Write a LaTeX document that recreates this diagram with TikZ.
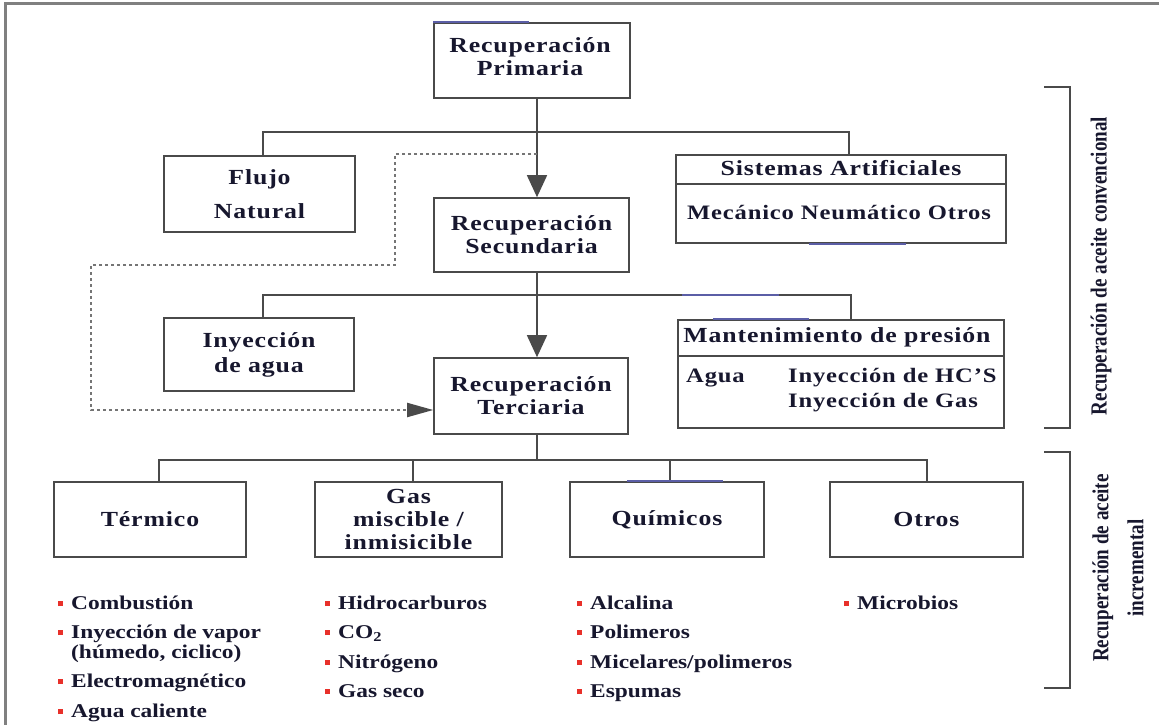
\documentclass[tikz,border=0pt]{standalone}
\usepackage{fontspec}
\setmainfont{Liberation Serif}
\newfontfamily\bxf[FakeStretch=1.2,LetterSpace=4]{Liberation Serif}
\newfontfamily\lsf[FakeStretch=1.2]{Liberation Serif}
\newfontfamily\rtf[FakeStretch=0.83]{Liberation Serif}
\usetikzlibrary{arrows.meta}
\definecolor{ink}{HTML}{17172E}
\definecolor{edge}{HTML}{4A4A4A}
\definecolor{framec}{HTML}{808080}
\definecolor{accent}{HTML}{5B5EA6}
\definecolor{bulred}{HTML}{E8302A}
\definecolor{dotc}{HTML}{757575}
\newcommand\bul{\textcolor{bulred}{\rule[3pt]{5pt}{5pt}}\hspace{8pt}}
\begin{document}
\begin{tikzpicture}[x=1pt,y=-1pt,
  box/.style={draw=edge, line width=1.6pt, inner sep=0pt, align=center, text=ink,
    font=\bxf\bfseries\fontsize{21.5}{23}\selectfont},
  txt/.style={inner sep=0pt, align=center, text=ink, font=\bxf\bfseries\fontsize{21.5}{23}\selectfont},
  small/.style={font=\bxf\bfseries\fontsize{20.5}{23}\selectfont},
  conn/.style={draw=edge, line width=1.5pt},
  arr/.style={conn, -{Triangle[length=22pt,width=20pt,fill=edge]}},
  dotline/.style={draw=dotc, line width=1.9pt, dash pattern=on 3pt off 3pt,
    -{Triangle[length=26pt,width=14pt,fill=edge,color=edge]}},
  item/.style={anchor=base west, inner sep=0pt, text=ink, font=\lsf\bfseries\fontsize{19.5}{20}\selectfont},
  brk/.style={draw=edge, line width=1.5pt},
  side/.style={rotate=90, inner sep=0pt, align=center, text=ink,
    font=\rtf\bfseries\fontsize{23}{35}\selectfont},
  blue/.style={draw=accent, line width=2.2pt}]
\useasboundingbox (0,0) rectangle (1159,725);
\fill[white] (0,0) rectangle (1159,725);
% frame
\draw[framec, line width=3pt] (5,725) -- (5,4) -- (1159,4);

% boxes
\node[box, minimum width=196pt, minimum height=75pt] (prim) at (532,60.5) {};
\node[txt] (primt) at (530,56.5) {Recuperación\\Primaria};
\node[box, minimum width=191pt, minimum height=76pt, font=\bxf\bfseries\fontsize{21.5}{34}\selectfont] (flujo) at (259.5,194) {Flujo\\Natural};
\node[box, minimum width=195pt, minimum height=74pt] (sec) at (531.5,235) {Recuperación\\Secundaria};
\node[box, minimum width=194pt, minimum height=76pt] (ter) at (531,396) {Recuperación\\Terciaria};
\node[box, minimum width=190pt, minimum height=73pt, font=\bxf\bfseries\fontsize{21.5}{25}\selectfont] (iny) at (259,354.5) {Inyección\\de agua};
\node[box, minimum width=330pt, minimum height=88pt] (sis) at (841,199) {};
\node[box, minimum width=326pt, minimum height=108pt] (man) at (841,374) {};
\node[box, minimum width=192pt, minimum height=75pt] (term) at (150,519.5) {Térmico};
\node[box, minimum width=187pt, minimum height=75pt] (gas) at (408.5,519.5) {Gas\\miscible /\\inmisicible};
\node[box, minimum width=194pt, minimum height=75pt] (quim) at (667,519.5) {Químicos};
\node[box, minimum width=193pt, minimum height=75pt] (otros) at (926.5,519.5) {Otros};

% split boxes content
\coordinate (sisdiv) at (0,184);
\draw[conn, line width=1.4pt] (sis.west |- sisdiv) -- (sis.east |- sisdiv);
\node[txt] (sist) at (841,168) {Sistemas Artificiales};
\node[txt, small] (sisb) at (839,213) {Mecánico Neumático Otros};
\coordinate (mandiv) at (0,356);
\draw[conn, line width=1.4pt] (man.west |- mandiv) -- (man.east |- mandiv);
\node[txt] (mant) at (837,337) {Mantenimiento de presión};
\node[txt, small, anchor=west] (mana) at (686,378) {Agua};
\node[txt, small, anchor=west] (manb) at (788,378) {Inyección de HC’S};
\node[txt, small, anchor=west] (manc) at (788,403) {Inyección de Gas};

% connectors
\coordinate (tr) at (537,0);
\coordinate (j1l) at (263,132);
\coordinate (j1r) at (849,132);
\coordinate (j2l) at (263,295);
\coordinate (j2r) at (851,295);
\coordinate (j3) at (537,460);
\coordinate (t1) at (159,460);
\coordinate (t2) at (413,460);
\coordinate (t3) at (670,460);
\coordinate (t4) at (927,460);
\draw[conn] (flujo.north -| j1l) -- (j1l) -- (j1r) -- (sis.north -| j1r);
\draw[conn] (iny.north -| j2l) -- (j2l) -- (j2r) -- (man.north -| j2r);
\draw[arr] (prim.south -| tr) -- (sec.north -| tr);
\draw[arr] (sec.south -| tr) -- (ter.north -| tr);
\draw[conn] (ter.south -| tr) -- (j3);
\draw[conn] (term.north -| t1) -- (t1) -- (t4) -- (otros.north -| t4);
\draw[conn] (gas.north -| t2) -- (t2);
\draw[conn] (quim.north -| t3) -- (t3);

% dotted feedback
\coordinate (d0) at (537,154);
\coordinate (d1) at (395,265);
\coordinate (d2) at (91,410);
\draw[dotline] (d0) -| (d1) -| (d2) -- (ter.west |- d2);

% blue accents
\draw[blue] (prim.north west) -- ++(96,0);
\draw[blue] ([xshift=-32pt]sis.south) -- ++(97,0);
\draw[blue] (682,295) -- (779,295);
\draw[blue] ([xshift=-128pt]man.north) -- ++(96,0);
\draw[blue] ([xshift=-40pt]quim.north) -- ++(96,0);

% lists
\node[item] (l1) at (58,609) {\bul Combustión};
\node[item] (l2) at (58,638) {\bul Inyección de vapor};
\node[item] (l3) at (71,658) {(húmedo, ciclico)};
\node[item] (l4) at (58,687) {\bul Electromagnético};
\node[item] (l5) at (58,717) {\bul Agua caliente};
\node[item] (g1) at (325,609) {\bul Hidrocarburos};
\node[item] (g2) at (325,638) {\bul CO\textsubscript{2}};
\node[item] (g3) at (325,668) {\bul Nitrógeno};
\node[item] (g4) at (325,697) {\bul Gas seco};
\node[item] (q1) at (577,609) {\bul Alcalina};
\node[item] (q2) at (577,638) {\bul Polimeros};
\node[item] (q3) at (577,668) {\bul Micelares/polimeros};
\node[item] (q4) at (577,697) {\bul Espumas};
\node[item] (o1) at (844,609) {\bul Microbios};

% brackets
\draw[brk] (1044,87) -- (1070,87) -- (1070,428) -- (1044,428);
\draw[brk] (1044,452) -- (1070,452) -- (1070,688) -- (1044,688);
\node[side] (conv) at (1101,266) {Recuperación de aceite convencional};
\node[side] (incr) at (1118,568) {Recuperación de aceite\\incremental};
\end{tikzpicture}
\end{document}
